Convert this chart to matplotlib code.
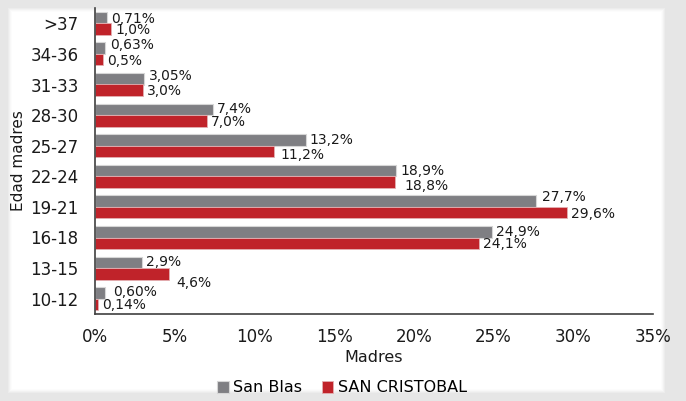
import numpy as np
import matplotlib
matplotlib.use('Agg')
import matplotlib.pyplot as plt
from matplotlib.patches import Rectangle

# datos (de abajo hacia arriba)
grupos = ['10-12', '13-15', '16-18', '19-21', '22-24', '25-27', '28-30', '31-33', '34-36', '>37']
san_blas = [0.60, 2.9, 24.9, 27.7, 18.9, 13.2, 7.4, 3.05, 0.63, 0.71]
san_cristobal = [0.14, 4.6, 24.1, 29.6, 18.8, 11.2, 7.0, 3.0, 0.5, 1.0]
etiq_blas = ['0,60%', '2,9%', '24,9%', '27,7%', '18,9%', '13,2%', '7,4%', '3,05%', '0,63%', '0,71%']
etiq_cris = ['0,14%', '4,6%', '24,1%', '29,6%', '18,8%', '11,2%', '7,0%', '3,0%', '0,5%', '1,0%']
xticks = [0, 5, 10, 15, 20, 25, 30, 35]

gris = '#7f7f83'
rojo = '#c0232a'

# desplazamientos manuales de etiquetas (pixeles), como en el original
off_blas = {0: (8, 1), 3: (6, 4), 7: (5, 3), 8: (5, 3), 9: (4, -1)}
off_cris = {1: (8, -9), 4: (10, -4), 5: (7, -4)}

fig = plt.figure(figsize=(6.86, 4.01), dpi=100)
fig.patch.set_facecolor('#e6e6e6')

# panel blanco con sombra suave
W, H = 686, 401
for i, a in enumerate([0.25, 0.35, 0.5, 0.7]):
    d = 4 - i
    fig.patches.append(Rectangle(((12 - d) / W, 1 - (389 + d) / H), (649 + 2 * d) / W, (377 + 2 * d) / H,
                                 transform=fig.transFigure, facecolor='white', alpha=a,
                                 edgecolor='none', zorder=-5))
fig.patches.append(Rectangle((12 / W, 1 - 389 / H), 649 / W, 377 / H, transform=fig.transFigure,
                             facecolor='white', edgecolor='none', zorder=-5))

ax = fig.add_axes([95.4 / W, 1 - 314 / H, (652.7 - 95.4) / W, (314 - 8) / H])
ax.set_facecolor('none')
ax.set_zorder(2)

y = np.arange(len(grupos))
h = 0.375
b1 = ax.barh(y + h / 2, san_blas, height=h, color=gris, edgecolor='#d6d6d6', linewidth=0.8, label='San Blas')
b2 = ax.barh(y - h / 2, san_cristobal, height=h, color=rojo, edgecolor='#e3b0b2', linewidth=0.6, label='SAN CRISTOBAL')

for i in range(len(grupos)):
    dx, dy = off_blas.get(i, (4, 0))
    ax.annotate(etiq_blas[i], (san_blas[i], y[i] + h / 2), xytext=(dx, dy), textcoords='offset pixels',
                ha='left', va='center', fontsize=10, color='#1a1a1a')
    dx, dy = off_cris.get(i, (4, -1))
    ax.annotate(etiq_cris[i], (san_cristobal[i], y[i] - h / 2), xytext=(dx, dy), textcoords='offset pixels',
                ha='left', va='center', fontsize=10, color='#1a1a1a')

ax.set_xlim(0, 35)
ax.set_ylim(-0.5, len(grupos) - 0.5)
ax.set_xticks(xticks)
ax.set_xticklabels([f'{v}%' for v in xticks], fontsize=12, color='#1a1a1a')
ax.set_yticks(y)
ax.set_yticklabels(grupos, fontsize=12, color='#1a1a1a')
ax.tick_params(axis='x', length=0, pad=10)
ax.tick_params(axis='y', length=0, pad=12)
for s in ['top', 'right']:
    ax.spines[s].set_visible(False)
for s in ['left', 'bottom']:
    ax.spines[s].set_color('#404040')
    ax.spines[s].set_linewidth(1.2)
ax.set_xlabel('Madres', fontsize=11.5, color='#1a1a1a', labelpad=3)
fig.text(19 / W, 1 - 161 / H, 'Edad madres', rotation=90, ha='center', va='center',
         fontsize=11, color='#1a1a1a')

fig.legend(handles=[b1, b2], loc='center', bbox_to_anchor=(342 / W, 1 - 388 / H), ncol=2,
           frameon=False, fontsize=11.5, handlelength=0.7, handleheight=0.7,
           handletextpad=0.3, columnspacing=1.2)

fig.savefig('out.png', dpi=100, facecolor=fig.get_facecolor())
